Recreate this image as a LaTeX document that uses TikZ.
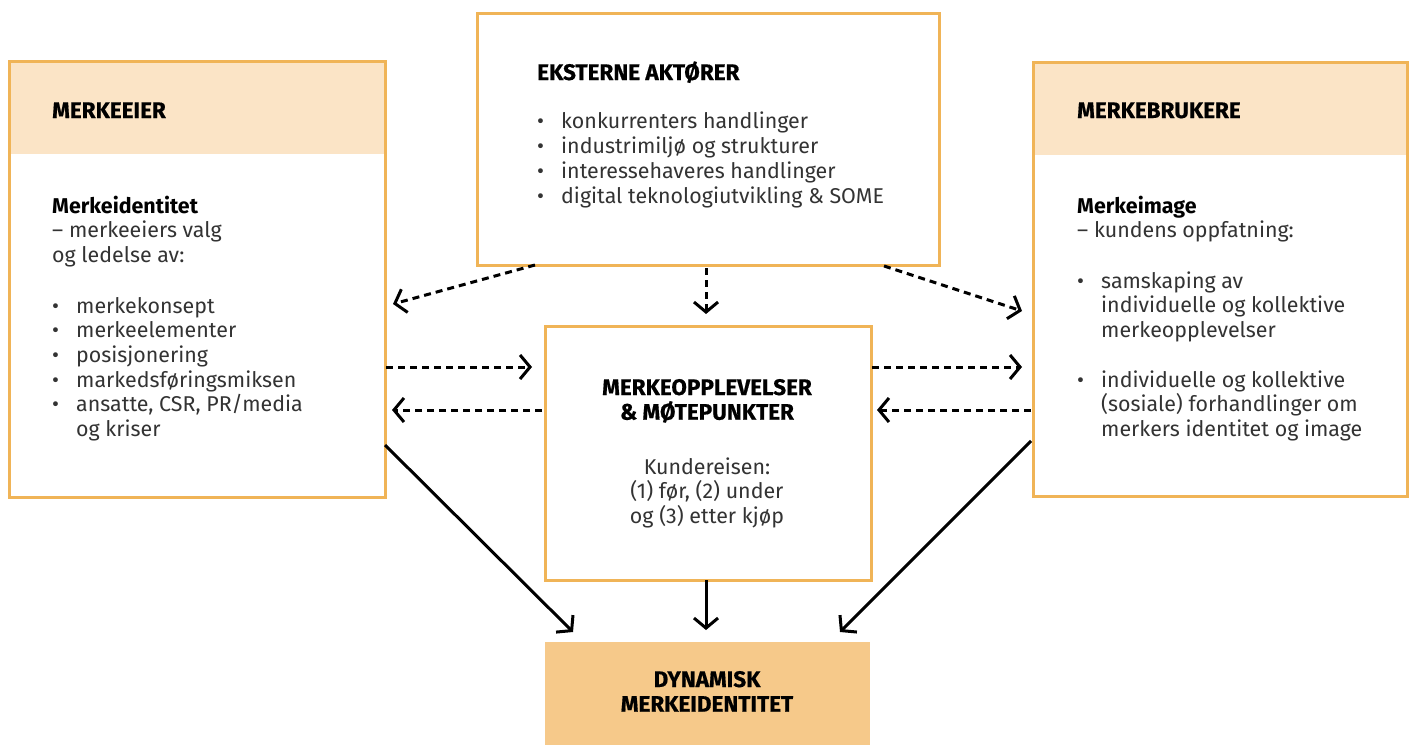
\documentclass[tikz,border=0pt]{standalone}
\usepackage{fontspec}
\setmainfont{Fira Sans}
\newfontfamily\heavy{Fira Sans Bold}[FakeBold=0.6]
\usetikzlibrary{arrows.meta}
\definecolor{bord}{HTML}{F0B457}
\definecolor{hdr}{HTML}{FBE4C6}
\definecolor{dyn}{HTML}{F6C98A}
\definecolor{body}{HTML}{333333}
\newcommand{\bl}{\makebox[24pt][l]{•}}
\newcommand{\ind}{\hspace*{24pt}}
\begin{document}
\begin{tikzpicture}[x=1pt,y=-1pt,
  box/.style={draw=bord, line width=2.5pt, fill=white, anchor=north west, inner sep=0},
  hbox/.style={box, path picture={\fill[hdr] (path picture bounding box.north west) rectangle ([yshift=-93pt]path picture bounding box.north east);}},
  ttl/.style={anchor=base west, inner sep=0, font=\fontsize{22.5}{24.7}\heavy, text=black, align=left},
  ctl/.style={anchor=base, inner sep=0, font=\fontsize{22.5}{24.7}\heavy, text=black, align=center},
  txt/.style={anchor=base west, inner sep=0, font=\fontsize{21.4}{24.7}\selectfont, text=body, align=left},
  ctx/.style={anchor=base, inner sep=0, font=\fontsize{21.4}{24.7}\selectfont, text=body, align=center},
  arr/.style={line width=3pt, -{Straight Barb[length=10pt,width=24pt,line width=3pt]}},
  dsh/.style={arr, dash pattern=on 7pt off 5pt}]
\useasboundingbox (0,0) rectangle (1410,744);
% boxes
\node[hbox, minimum width=376pt, minimum height=436pt] (own) at (8,60) {};
\node[box, minimum width=462pt, minimum height=252pt] (ext) at (476,12) {};
\node[hbox, minimum width=374pt, minimum height=434pt] (usr) at (1032,61) {};
\node[box, minimum width=326pt, minimum height=254pt] (mid) at (544,325) {};
\node[anchor=north west, fill=dyn, draw=none, minimum width=325pt, minimum height=104pt, inner sep=0] (dyn) at (545,642) {};
% texts (anchor = baseline of the last line)
\node[ttl] (ownT) at (52,118) {MERKEEIER};
\node[txt] (ownB) at (52,262.4) {\textbf{\color{black}Merkeidentitet}\\– merkeeiers valg\\og ledelse av:};
\node[txt] (ownL) at (52,436.5) {\bl merkekonsept\\\bl merkeelementer\\\bl posisjonering\\\bl markedsføringsmiksen\\\bl ansatte, CSR, PR/media\\\ind og kriser};
\node[ttl] (extT) at (537,80) {EKSTERNE AKTØRER};
\node[txt] (extL) at (537,203) {\bl konkurrenters handlinger\\\bl industrimiljø og strukturer\\\bl interessehaveres handlinger\\\bl digital teknologiutvikling \& SOME};
\node[ttl] (usrT) at (1077,118) {MERKEBRUKERE};
\node[txt] (usrB) at (1077,237.7) {\textbf{\color{black}Merkeimage}\\– kundens oppfatning:};
\node[txt] (usrL1) at (1077,337.4) {\bl samskaping av\\\ind individuelle og kollektive\\\ind merkeopplevelser};
\node[txt] (usrL2) at (1077,436.4) {\bl individuelle og kollektive\\\ind (sosiale) forhandlinger om\\\ind merkers identitet og image};
\node[ctl] (midT) at (707,419.7) {MERKEOPPLEVELSER\\\& MØTEPUNKTER};
\node[ctx] (midB) at (707,523.4) {Kundereisen:\\(1) før, (2) under\\og (3) etter kjøp};
\node[ctl] (dynT) at (707,711.7) {DYNAMISK\\MERKEIDENTITET};
% arrow end points
\coordinate (e1) at (535,265); \coordinate (t1) at (393,304);
\coordinate (e2) at (706,268); \coordinate (t2) at (706,314);
\coordinate (e3) at (884,266); \coordinate (t3) at (1022,311);
\coordinate (a1) at (386,367); \coordinate (a1t) at (532,367);
\coordinate (a2) at (542,410); \coordinate (a2t) at (392,410);
\coordinate (a3) at (872,367); \coordinate (a3t) at (1022,367);
\coordinate (a4) at (1031,410); \coordinate (a4t) at (877,410);
\coordinate (s1) at (385,445); \coordinate (s1t) at (573,632);
\coordinate (s2) at (706,580); \coordinate (s2t) at (706,630);
\coordinate (s3) at (1031,441); \coordinate (s3t) at (840,632);
\draw[dsh] (e1) -- (t1);
\draw[dsh] (e2) -- (t2);
\draw[dsh] (e3) -- (t3);
\draw[dsh] (a1) -- (a1t);
\draw[dsh] (a2) -- (a2t);
\draw[dsh] (a3) -- (a3t);
\draw[dsh] (a4) -- (a4t);
\draw[arr] (s1) -- (s1t);
\draw[arr] (s2) -- (s2t);
\draw[arr] (s3) -- (s3t);
\end{tikzpicture}
\end{document}
